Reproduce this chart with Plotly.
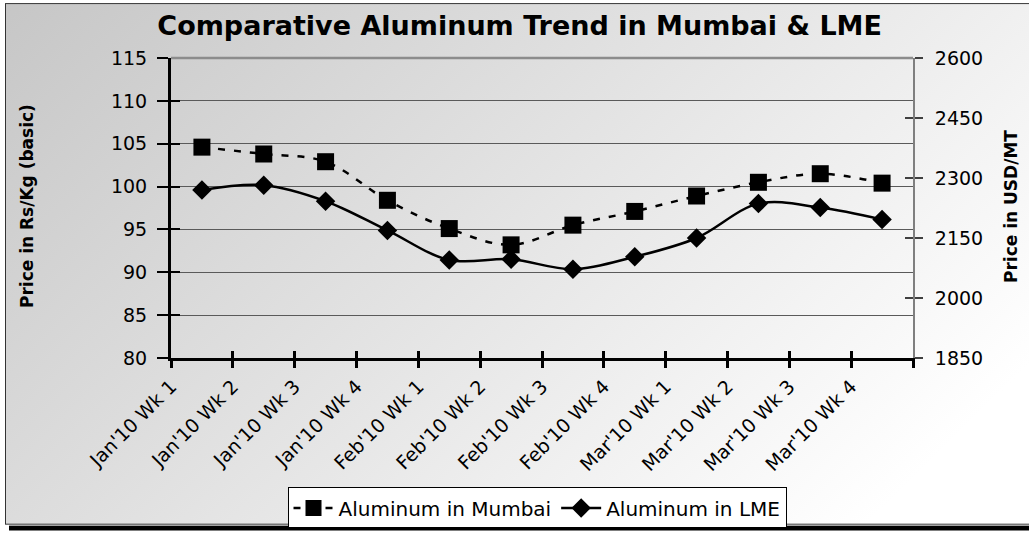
import base64
import plotly.graph_objects as go

# ---------------- data ----------------
categories = ["Jan'10 Wk 1", "Jan'10 Wk 2", "Jan'10 Wk 3", "Jan'10 Wk 4",
              "Feb'10 Wk 1", "Feb'10 Wk 2", "Feb'10 Wk 3", "Feb'10 Wk 4",
              "Mar'10 Wk 1", "Mar'10 Wk 2", "Mar'10 Wk 3", "Mar'10 Wk 4"]
mumbai = [104.6, 103.8, 102.9, 98.4, 95.1, 93.2, 95.5, 97.1, 98.9, 100.5, 101.5, 100.4]
lme = [2270, 2282, 2242, 2169, 2095, 2097, 2072, 2103, 2150, 2236, 2226, 2196]
left_ticks = [80, 85, 90, 95, 100, 105, 110, 115]
right_ticks = [1850, 2000, 2150, 2300, 2450, 2600]

title_text = "Comparative Aluminum Trend in Mumbai & LME"
left_title = "Price in Rs/Kg (basic)"
right_title = "Price in USD/MT"

# ---------------- geometry ----------------
W, H = 1029, 540
L, R, T, B = 171, 116, 58, 176
PW, PH = W - L - R, H - T - B

FONT = "DejaVu Sans"

n = len(categories)
xpos = [i + 0.5 for i in range(n)]
xticks = list(range(n + 1))
xticktext = categories + [""]

# background (gradient frame + shadow) as an SVG image
svg = f'''<svg xmlns="http://www.w3.org/2000/svg" width="{W}" height="{H}" viewBox="0 0 {W} {H}" preserveAspectRatio="none">
<defs><linearGradient id="g" gradientUnits="userSpaceOnUse" x1="0" y1="0" x2="700" y2="700">
<stop offset="0" stop-color="#c6c6c6"/><stop offset="1" stop-color="#ffffff"/></linearGradient></defs>
<rect width="{W}" height="{H}" fill="#ffffff"/>
<rect x="9" y="535" width="{W}" height="6" fill="#000000"/>
<rect x="5.5" y="2.5" width="{W + 10}" height="531" fill="url(#g)" stroke="#333333" stroke-width="1"/>
</svg>'''
svg_uri = "data:image/svg+xml;base64," + base64.b64encode(svg.encode()).decode()

fig = go.Figure()

fig.add_trace(go.Scatter(
    x=xpos, y=mumbai, name="Aluminum in Mumbai", mode="lines+markers",
    line=dict(color="black", width=2.5, dash="7px,9px", shape="spline", smoothing=1.0),
    marker=dict(symbol="square", size=17, color="black"),
    yaxis="y", xaxis="x",
))
fig.add_trace(go.Scatter(
    x=xpos, y=lme, name="Aluminum in LME", mode="lines+markers",
    line=dict(color="black", width=2.5, shape="spline", smoothing=1.0),
    marker=dict(symbol="diamond", size=15, color="black"),
    yaxis="y2", xaxis="x",
))
# helper traces for overlay tick axes (crossing tick marks)
fig.add_trace(go.Scatter(x=[], y=[], xaxis="x", yaxis="y3", showlegend=False, hoverinfo="skip"))
fig.add_trace(go.Scatter(x=[], y=[], xaxis="x", yaxis="y4", showlegend=False, hoverinfo="skip"))
fig.add_trace(go.Scatter(x=[], y=[], xaxis="x2", yaxis="y", showlegend=False, hoverinfo="skip"))

fig.update_layout(
    width=W, height=H,
    margin=dict(l=L, r=R, t=T, b=B, pad=0),
    paper_bgcolor="rgba(0,0,0,0)",
    plot_bgcolor="white",
    font=dict(family=FONT, color="black"),
    title=dict(text=f"<b>{title_text}</b>", x=0.505, xanchor="center", xref="container",
               y=1 - 26 / H, yanchor="middle", yref="container",
               font=dict(family=FONT, size=27, color="black")),
    showlegend=True,
    legend=dict(orientation="h", x=(537 - L) / PW, xanchor="center",
                y=(H - B - 496) / PH, yanchor="top",
                bgcolor="white", bordercolor="black", borderwidth=1,
                font=dict(family=FONT, size=20, color="black"),
                itemwidth=40, tracegroupgap=0),
    xaxis=dict(range=[0, n], tickmode="array", tickvals=xticks, ticktext=xticktext,
               tickangle=-45, tickfont=dict(family=FONT, size=19, color="black"),
               ticks="outside", ticklen=7, tickwidth=2.5, tickcolor="black",
               showline=True, linecolor="black", linewidth=3,
               showgrid=False, zeroline=False, fixedrange=True),
    xaxis2=dict(range=[0, n], overlaying="x", anchor="y", side="bottom",
                tickmode="array", tickvals=xticks, showticklabels=False,
                ticks="inside", ticklen=7, tickwidth=2.5, tickcolor="black",
                showline=False, showgrid=False, zeroline=False),
    yaxis=dict(range=[80, 115], tickmode="array", tickvals=left_ticks,
               tickfont=dict(family=FONT, size=19, color="black"),
               ticks="outside", ticklen=11, tickwidth=2, tickcolor="black",
               ticklabelstandoff=6,
               showline=True, linecolor="black", linewidth=3,
               showgrid=True, gridcolor="#5a5a5a", gridwidth=1, zeroline=False),
    yaxis2=dict(range=[1850, 2600], overlaying="y", side="right", anchor="x",
                tickmode="array", tickvals=right_ticks,
                tickfont=dict(family=FONT, size=19, color="black"),
                ticks="outside", ticklen=8, tickwidth=1.5, tickcolor="#404040",
                ticklabelstandoff=8,
                showline=True, linecolor="#7f7f7f", linewidth=2,
                showgrid=False, zeroline=False),
    yaxis3=dict(range=[80, 115], overlaying="y", side="left", anchor="x",
                tickmode="array", tickvals=left_ticks, showticklabels=False,
                ticks="inside", ticklen=9, tickwidth=2, tickcolor="black",
                showline=False, showgrid=False, zeroline=False),
    yaxis4=dict(range=[1850, 2600], overlaying="y", side="right", anchor="x",
                tickmode="array", tickvals=right_ticks, showticklabels=False,
                ticks="inside", ticklen=8, tickwidth=1.5, tickcolor="#404040",
                showline=False, showgrid=False, zeroline=False),
    images=[dict(source=svg_uri, xref="paper", yref="paper",
                 x=-L / PW, y=1 + T / PH, sizex=W / PW, sizey=H / PH,
                 xanchor="left", yanchor="top", sizing="stretch", layer="below")],
    shapes=[dict(type="line", xref="paper", yref="paper", x0=0, x1=1, y0=1, y1=1,
                 line=dict(color="#8c8c8c", width=2.5))],
    annotations=[
        dict(text=f"<b>{left_title}</b>", xref="paper", yref="paper",
             x=(27 - L) / PW, y=(H - B - 209) / PH, xanchor="center", yanchor="middle",
             textangle=-90, showarrow=False, font=dict(family=FONT, size=17, color="black")),
        dict(text=f"<b>{right_title}</b>", xref="paper", yref="paper",
             x=(1011 - L) / PW, y=(H - B - 210) / PH, xanchor="center", yanchor="middle",
             textangle=-90, showarrow=False, font=dict(family=FONT, size=17, color="black")),
    ],
)

fig.write_html("out.html")
